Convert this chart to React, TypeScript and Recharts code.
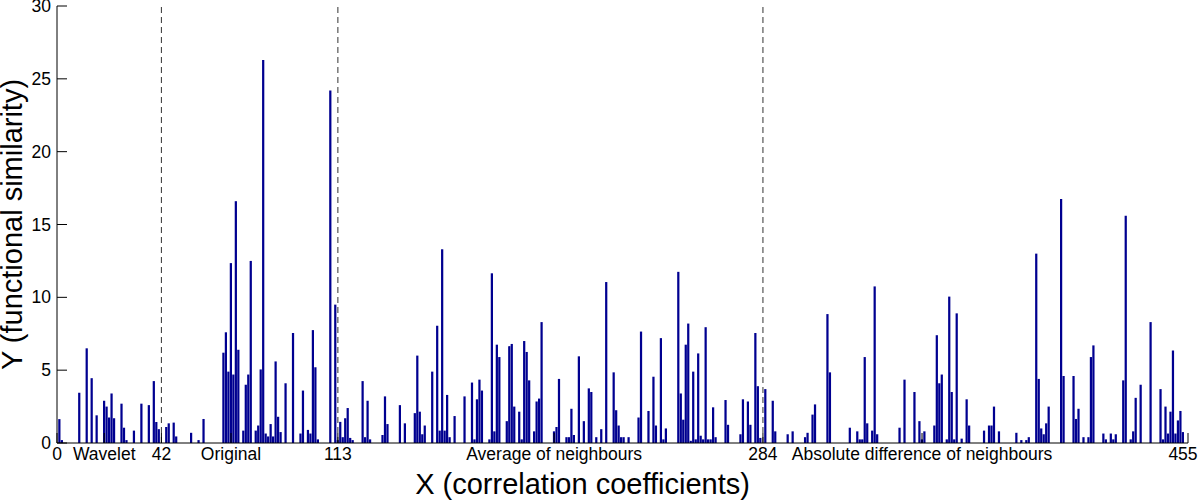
import { Bar, BarChart, ReferenceLine, XAxis, YAxis } from "recharts";

// bar positions (coefficient index) and functional similarity values
const coeffIndex = [
    1, 2, 9, 12, 14, 16, 19, 20, 21, 22, 23, 26, 27, 28, 31, 34, 37, 39, 40, 41,
    44, 45, 47, 48, 54, 57, 59, 67, 68, 69, 70, 71, 72, 73, 75, 76, 77, 78, 80, 81,
    82, 83, 84, 85, 86, 87, 88, 89, 90, 92, 95, 98, 99, 101, 102, 103, 104, 105, 110, 112,
    113, 114, 115, 116, 117, 118, 119, 123, 124, 125, 126, 131, 132, 133, 138, 140, 144, 145, 146, 147,
    148, 151, 153, 154, 155, 156, 157, 158, 160, 164, 167, 168, 169, 170, 171, 174, 175, 176, 177, 178,
    181, 182, 183, 184, 186, 187, 188, 189, 190, 192, 193, 194, 195, 200, 201, 202, 205, 206, 207, 208,
    210, 212, 214, 215, 217, 219, 221, 224, 225, 226, 227, 228, 230, 234, 235, 238, 240, 241, 243, 244,
    245, 250, 251, 252, 253, 254, 255, 256, 257, 258, 259, 260, 261, 262, 263, 264, 265, 269, 270, 275,
    276, 278, 279, 281, 282, 283, 285, 288, 289, 294, 296, 301, 302, 304, 305, 310, 311, 319, 322, 323,
    324, 325, 326, 328, 329, 330, 339, 341, 345, 347, 348, 349, 353, 354, 355, 356, 358, 359, 360, 361,
    362, 364, 366, 367, 373, 375, 376, 377, 379, 386, 388, 390, 391, 394, 395, 396, 397, 398, 399, 404,
    405, 409, 410, 411, 413, 415, 416, 417, 421, 422, 424, 425, 426, 429, 430, 432, 433, 434, 436, 440,
    444, 445, 446, 447, 448, 449, 450, 451, 452, 453,
];

const similarity = [
    1.64, 0.2, 3.45, 6.5, 4.45, 1.9, 2.9, 2.5, 1.75, 3.4, 1.7, 2.7, 1.05, 0.2, 0.85, 2.7, 2.6, 4.25, 1.44, 0.95,
    1.1, 1.35, 1.4, 0.45, 0.7, 0.2, 1.65, 6.2, 7.6, 4.9, 12.35, 4.7, 16.6, 6.4, 0.85, 4.0, 4.7, 12.5, 0.85, 1.2,
    5.05, 26.3, 0.65, 0.45, 1.3, 0.45, 5.6, 1.8, 0.75, 4.1, 7.55, 0.65, 3.6, 0.9, 0.65, 7.75, 5.2, 0.25, 24.2, 9.5,
    0.2, 1.45, 0.4, 1.7, 2.4, 0.35, 0.2, 4.25, 0.4, 2.9, 0.25, 0.55, 3.2, 1.3, 2.6, 1.35, 2.05, 6.0, 2.15, 0.6,
    1.2, 4.9, 8.05, 0.85, 13.3, 0.85, 3.3, 0.4, 1.85, 3.2, 4.15, 0.25, 3.0, 4.35, 3.6, 0.25, 11.65, 0.8, 6.75, 5.9,
    1.5, 6.65, 6.8, 2.5, 2.15, 0.25, 7.0, 6.25, 4.3, 0.8, 2.85, 3.05, 8.3, 0.8, 1.1, 4.4, 0.4, 0.4, 2.35, 0.55,
    5.95, 1.5, 3.75, 3.5, 0.4, 0.95, 11.05, 4.85, 2.25, 1.2, 0.4, 0.4, 0.4, 1.75, 7.65, 2.2, 4.55, 1.2, 7.2, 0.25,
    1.0, 11.75, 3.4, 1.6, 6.75, 8.2, 0.15, 4.9, 0.25, 6.15, 0.5, 0.25, 7.95, 0.25, 0.25, 2.45, 0.4, 2.95, 1.25, 0.6,
    3.0, 2.85, 1.25, 7.55, 3.9, 0.35, 3.7, 2.9, 0.8, 0.6, 0.8, 0.4, 0.7, 1.95, 2.65, 8.85, 4.85, 1.05, 0.8, 0.25,
    0.25, 5.9, 1.35, 0.85, 10.75, 0.6, 1.05, 4.35, 3.5, 1.5, 0.25, 0.8, 1.2, 7.4, 4.1, 4.7, 0.25, 10.05, 3.5, 0.25,
    8.9, 0.3, 3.0, 1.2, 0.85, 1.2, 1.2, 2.5, 0.8, 0.7, 0.2, 0.2, 0.4, 13.0, 4.4, 1.0, 0.6, 1.35, 2.5, 16.75,
    4.6, 4.6, 1.65, 2.35, 0.4, 0.4, 5.9, 6.7, 0.65, 0.25, 0.65, 0.25, 0.6, 4.3, 15.6, 0.25, 0.8, 3.1, 4.0, 8.3,
    3.7, 0.25, 2.5, 0.65, 2.15, 6.35, 0.65, 1.55, 2.2, 0.75,
];

// x ticks: section boundaries plus the section names placed between them
const xTicks = [0, 19, 42, 70, 113, 200, 284, 348, 455];
const xTickLabels = [
    "0",
    "Wavelet",
    "42",
    "Original",
    "113",
    "Average of neighbours",
    "284",
    "Absolute difference of neighbours",
    "455",
];
const yTicks = [0, 5, 10, 15, 20, 25, 30];
const sectionBounds = [42, 113, 284];

const data = coeffIndex.map((x, i) => ({ x, y: similarity[i] }));

const FONT = "'Liberation Sans', Arial, sans-serif";
const TICK_LEN = 10;

function BottomTick({ x, y, payload }: any) {
    const i = xTicks.indexOf(payload.value);
    const last = i === xTicks.length - 1;
    return (
        <g>
            <line x1={x} y1={y} x2={x} y2={y - TICK_LEN} stroke="#000" />
            <text
                x={x}
                y={y + 17}
                dx={last ? -5 : 0}
                textAnchor="middle"
                fontSize={17.5}
                fontFamily={FONT}
                fill="#000"
            >
                {xTickLabels[i]}
            </text>
        </g>
    );
}

function TopTick({ x, y }: any) {
    return <line x1={x} y1={y} x2={x} y2={y + TICK_LEN} stroke="#000" />;
}

function LeftTick({ x, y, payload }: any) {
    return (
        <g>
            <line x1={x} y1={y} x2={x + TICK_LEN} y2={y} stroke="#000" />
            <text x={x - 6} y={y} dy={6} textAnchor="end" fontSize={17.5} fontFamily={FONT} fill="#000">
                {payload.value}
            </text>
        </g>
    );
}

function RightTick({ x, y }: any) {
    return <line x1={x} y1={y} x2={x - TICK_LEN} y2={y} stroke="#000" />;
}

export default function App() {
    return (
        <div style={{ position: "absolute", left: 0, top: 0, background: "#fff" }}>
            <BarChart
                width={1200}
                height={501}
                data={data}
                margin={{ top: 6, right: 12, bottom: 0, left: 0 }}
            >
                <XAxis
                    dataKey="x"
                    type="number"
                    domain={[0, 455]}
                    ticks={xTicks}
                    interval={0}
                    height={58}
                    tickSize={0}
                    tickMargin={0}
                    tick={<BottomTick />}
                    axisLine={{ stroke: "#000" }}
                    allowDataOverflow
                    label={{
                        value: "X (correlation coefficients)",
                        position: "insideBottom",
                        offset: 7,
                        dx: -40,
                        fontSize: 29,
                        fontFamily: FONT,
                        fill: "#000",
                    }}
                />
                <XAxis
                    xAxisId="top"
                    dataKey="x"
                    type="number"
                    orientation="top"
                    domain={[0, 455]}
                    ticks={xTicks}
                    interval={0}
                    height={0}
                    tickSize={0}
                    tickMargin={0}
                    tick={<TopTick />}
                    axisLine={{ stroke: "#000" }}
                />
                <YAxis
                    domain={[0, 30]}
                    ticks={yTicks}
                    interval={0}
                    width={57}
                    tickSize={0}
                    tickMargin={0}
                    tick={<LeftTick />}
                    axisLine={{ stroke: "#000" }}
                    label={{
                        value: "Y (functional similarity)",
                        angle: -90,
                        position: "insideLeft",
                        offset: 12,
                        fontSize: 29,
                        fontFamily: FONT,
                        fill: "#000",
                        style: { textAnchor: "middle" },
                    }}
                />
                <YAxis
                    yAxisId="right"
                    orientation="right"
                    domain={[0, 30]}
                    ticks={yTicks}
                    interval={0}
                    width={0}
                    tickSize={0}
                    tickMargin={0}
                    tick={<RightTick />}
                    axisLine={{ stroke: "#000" }}
                />
                {sectionBounds.map((b) => (
                    <ReferenceLine
                        key={b}
                        x={b}
                        stroke="#333"
                        strokeDasharray="6 4"
                        ifOverflow="extendDomain"
                    />
                ))}
                <Bar dataKey="y" fill="#000090" barSize={2.5} isAnimationActive={false} />
            </BarChart>
        </div>
    );
}
